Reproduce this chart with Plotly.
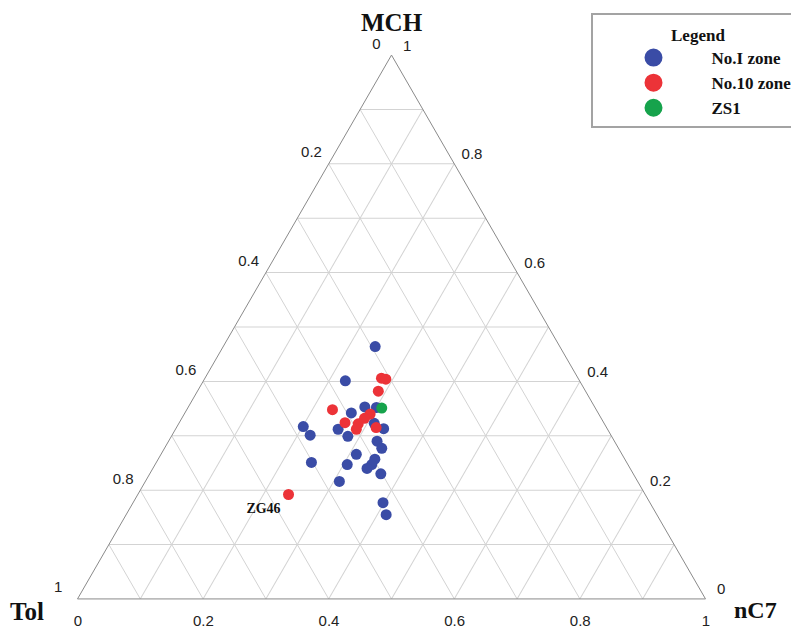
import plotly.graph_objects as go

# Fractions: MCH (top), Tol (bottom-left), nC7 (bottom-right)
zone1_mch = [0.464, 0.401, 0.353, 0.352, 0.342, 0.312, 0.299, 0.313, 0.290, 0.277, 0.266, 0.257,
             0.247, 0.247, 0.240, 0.230, 0.216, 0.317, 0.301, 0.251, 0.177, 0.155, 0.323]
zone1_tol = [0.294, 0.373, 0.366, 0.348, 0.393, 0.429, 0.420, 0.356, 0.378, 0.377, 0.423, 0.398,
             0.408, 0.447, 0.419, 0.402, 0.475, 0.482, 0.479, 0.502, 0.425, 0.431, 0.366]
zone1_nc7 = [0.242, 0.226, 0.281, 0.300, 0.265, 0.259, 0.281, 0.331, 0.332, 0.346, 0.311, 0.345,
             0.345, 0.306, 0.341, 0.368, 0.309, 0.201, 0.220, 0.247, 0.398, 0.414, 0.311]

zone10_mch = [0.406, 0.404, 0.382, 0.348, 0.340, 0.332, 0.322, 0.312, 0.324, 0.315, 0.192]
zone10_tol = [0.313, 0.307, 0.330, 0.420, 0.364, 0.377, 0.392, 0.400, 0.412, 0.367, 0.568]
zone10_nc7 = [0.281, 0.289, 0.288, 0.232, 0.296, 0.291, 0.286, 0.288, 0.264, 0.318, 0.240]
zone10_labels = ["", "", "", "", "", "", "", "", "", "", "ZG46"]

zs1_mch = [0.351]
zs1_tol = [0.340]
zs1_nc7 = [0.309]

series_names = ["No.I zone", "No.10 zone", "ZS1"]
series_colors = ["#3a4ca6", "#ec3338", "#16a34c"]

grid_vals = [i / 10 for i in range(11)]
tick_labels = [("%g" % round(1 - v, 1)) if i % 2 == 0 else "" for i, v in enumerate(grid_vals)]

NB = "\u00a0"


def a_text(t):
    if not t:
        return ""
    pad = NB * 2 if t == "1" else (NB if t == "0" else "")
    return t + pad + "<br>" + NB


def c_text(t):
    if not t:
        return ""
    return (NB + t) if len(t) == 1 else t


a_ticktext = [a_text(t) for t in tick_labels]
b_ticktext = [t + NB + NB if t else "" for t in tick_labels]
c_ticktext = [c_text(t) for t in tick_labels]

serif_bold = dict(family="Liberation Serif", color="#111111", weight="bold")

fig = go.Figure()

data = [
    (zone1_mch, zone1_tol, zone1_nc7, None),
    (zone10_mch, zone10_tol, zone10_nc7, zone10_labels),
    (zs1_mch, zs1_tol, zs1_nc7, None),
]
for (a, b, c, txt), name, col in zip(data, series_names, series_colors):
    fig.add_trace(go.Scatterternary(
        a=a, b=b, c=c, name=name, legendgroup=name, showlegend=False,
        mode="markers+text" if txt else "markers",
        text=txt, textposition="bottom left",
        textfont=dict(family="Liberation Serif", size=14, color="#111111", weight="bold"),
        marker=dict(size=11, color=col, line=dict(width=0)),
        hoverinfo="skip",
    ))
# legend entries (larger swatches, no visible points)
for name, col in zip(series_names, series_colors):
    fig.add_trace(go.Scatterternary(
        a=[None], b=[None], c=[None], name=name, legendgroup=name, showlegend=True,
        mode="markers", marker=dict(size=16, color=col, line=dict(width=2, color=col)),
        hoverinfo="skip",
    ))


def axis(ticktext, ticklen):
    return dict(
        tickmode="array", tickvals=grid_vals, ticktext=ticktext,
        ticks="outside", ticklen=ticklen, tickcolor="rgba(0,0,0,0)",
        showgrid=True, gridcolor="#d3d3d3", gridwidth=1,
        showline=True, linecolor="#8a8a8a", linewidth=1,
        tickfont=dict(family="Liberation Sans", size=15, color="#222222"),
        title=dict(text=""),
    )


W, H = 791, 620  # page body has an 8px margin in the 799x628 window
fig.update_layout(
    width=W, height=H,
    margin=dict(l=0, r=0, t=0, b=0),
    paper_bgcolor="white",
    ternary=dict(
        sum=1,
        bgcolor="white",
        domain=dict(x=[69.5 / W, 697.5 / W], y=[(H - 591) / H, (H - 47) / H]),
        aaxis=axis(a_ticktext, 4), baxis=axis(b_ticktext, 9), caxis=axis(c_ticktext, 9),
    ),
    showlegend=True,
    legend=dict(
        x=587.5 / W, xanchor="left", y=1 - 32 / H, yanchor="top",
        font=dict(size=17, **serif_bold),
        itemwidth=106, itemsizing="trace", tracegroupgap=0,
        bgcolor="rgba(0,0,0,0)", borderwidth=0,
    ),
    shapes=[dict(type="rect", xref="paper", yref="paper",
                 x0=584 / W, x1=784 / W, y0=1 - 119 / H, y1=1 - 6 / H,
                 line=dict(color="#a3a3a3", width=2), fillcolor="rgba(0,0,0,0)")],
    annotations=[
        dict(text="Legend", x=690 / W, y=1 - 27 / H, xref="paper", yref="paper",
             showarrow=False, xanchor="center", yanchor="middle", font=dict(size=17, **serif_bold)),
        dict(text="MCH", x=383.5 / W, y=1 - 14 / H, xref="paper", yref="paper",
             showarrow=False, xanchor="center", yanchor="middle", font=dict(size=25, **serif_bold)),
        dict(text="Tol", x=19 / W, y=1 - 603 / H, xref="paper", yref="paper",
             showarrow=False, xanchor="center", yanchor="middle", font=dict(size=25, **serif_bold)),
        dict(text="nC7", x=747 / W, y=1 - 602 / H, xref="paper", yref="paper",
             showarrow=False, xanchor="center", yanchor="middle", font=dict(size=24, **serif_bold)),
    ],
)

fig.write_html("out.html")
